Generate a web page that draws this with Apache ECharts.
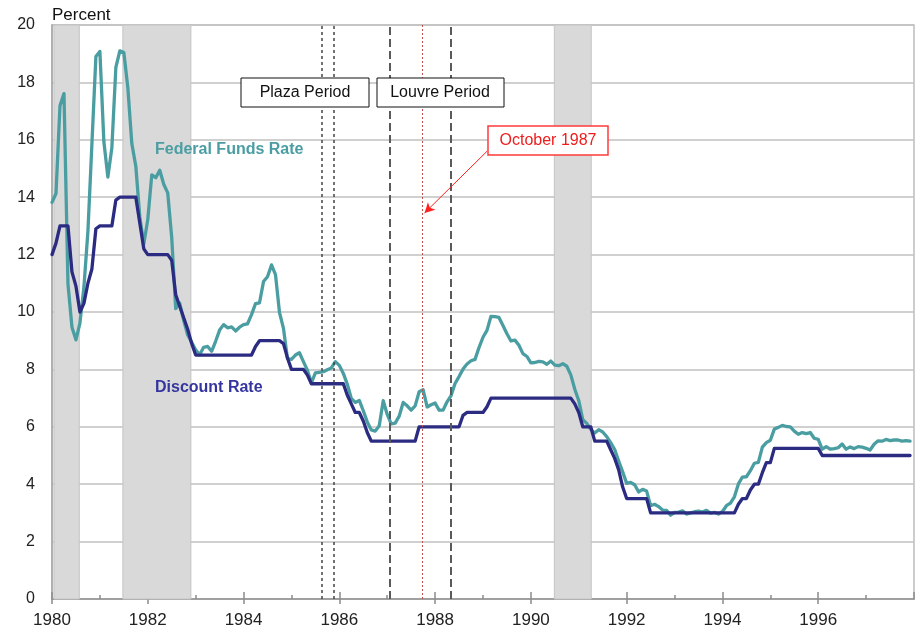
<!DOCTYPE html>
<html>
<head>
<meta charset="utf-8">
<script src="https://cdn.jsdelivr.net/npm/echarts/dist/echarts.min.js"></script>
<style>
html, body { margin: 0; padding: 0; background: #fff; }
#main { width: 916px; height: 634px; }
</style>
</head>
<body>
<div id="main"></div>
<script>
// monthly data, Jan 1980 .. Dec 1997
var startYear = 1980;

var fedFunds = [
  13.82,14.13,17.19,17.61,10.98,9.47,9.03,9.61,10.87,12.81,15.85,18.90,
  19.08,15.93,14.70,15.72,18.52,19.10,19.04,17.82,15.87,15.08,13.31,12.37,
  13.22,14.78,14.68,14.94,14.45,14.15,12.59,10.12,10.31,9.71,9.20,8.95,
  8.68,8.51,8.77,8.80,8.63,8.98,9.37,9.56,9.45,9.48,9.34,9.47,
  9.56,9.59,9.91,10.29,10.32,11.06,11.23,11.64,11.30,9.99,9.43,8.38,
  8.35,8.50,8.58,8.27,7.97,7.53,7.88,7.90,7.92,7.99,8.05,8.27,
  8.14,7.86,7.48,6.99,6.85,6.92,6.56,6.17,5.89,5.85,6.04,6.91,
  6.43,6.10,6.13,6.37,6.85,6.73,6.58,6.73,7.22,7.29,6.69,6.77,
  6.83,6.58,6.58,6.87,7.09,7.51,7.75,8.01,8.19,8.30,8.35,8.76,
  9.12,9.36,9.85,9.84,9.81,9.53,9.24,8.99,9.02,8.84,8.55,8.45,
  8.23,8.24,8.28,8.26,8.18,8.29,8.15,8.13,8.20,8.11,7.81,7.31,
  6.91,6.25,6.12,5.91,5.78,5.90,5.82,5.66,5.45,5.21,4.81,4.43,
  4.03,4.06,3.98,3.73,3.82,3.76,3.25,3.30,3.22,3.10,3.09,2.92,
  3.02,3.03,3.07,2.96,3.00,3.04,3.06,3.03,3.09,2.99,3.02,2.96,
  3.05,3.25,3.34,3.56,4.01,4.25,4.26,4.47,4.73,4.76,5.29,5.45,
  5.53,5.92,5.98,6.05,6.01,6.00,5.85,5.74,5.80,5.76,5.80,5.60,
  5.56,5.22,5.31,5.22,5.24,5.27,5.40,5.22,5.30,5.24,5.31,5.29,
  5.25,5.19,5.39,5.51,5.50,5.56,5.52,5.54,5.54,5.50,5.52,5.50
];

var discountRate = [
  12,12.4,13,13,13,11.4,10.9,10,10.3,11,11.5,12.9,
  13,13,13,13,13.9,14,14,14,14,14,13.1,12.2,
  12,12,12,12,12,12,11.8,10.6,10.2,9.8,9.4,8.9,
  8.5,8.5,8.5,8.5,8.5,8.5,8.5,8.5,8.5,8.5,8.5,8.5,
  8.5,8.5,8.5,8.8,9,9,9,9,9,9,8.9,8.4,
  8,8,8,8,7.8,7.5,7.5,7.5,7.5,7.5,7.5,7.5,
  7.5,7.5,7.1,6.8,6.5,6.5,6.2,5.8,5.5,5.5,5.5,5.5,
  5.5,5.5,5.5,5.5,5.5,5.5,5.5,5.5,6,6,6,6,
  6,6,6,6,6,6,6,6.4,6.5,6.5,6.5,6.5,
  6.5,6.7,7,7,7,7,7,7,7,7,7,7,
  7,7,7,7,7,7,7,7,7,7,7,6.8,
  6.5,6,6,6,5.5,5.5,5.5,5.5,5.2,4.9,4.5,3.9,
  3.5,3.5,3.5,3.5,3.5,3.5,3,3,3,3,3,3,
  3,3,3,3,3,3,3,3,3,3,3,3,
  3,3,3,3,3.3,3.5,3.5,3.8,4,4,4.4,4.75,
  4.75,5.25,5.25,5.25,5.25,5.25,5.25,5.25,5.25,5.25,5.25,5.25,
  5.25,5,5,5,5,5,5,5,5,5,5,5,
  5,5,5,5,5,5,5,5,5,5,5,5
];

// recessions (shaded)
var recessionStart = [1980.04, 1981.48, 1990.49];
var recessionEnd = [1980.57, 1982.90, 1991.26];

// event lines
var plazaDates = [1985.64, 1985.89];
var louvreDates = [1987.06, 1988.32];
var octoberDate = 1987.73;
var arrowFrom = [1989.09, 15.61];
var arrowTo = [1987.78, 13.45];

function toPairs(arr) {
  return arr.map(function (v, i) { return [startYear + i / 12, v]; });
}

var eventLines = [];
plazaDates.forEach(function (d) {
  eventLines.push({ xAxis: d, lineStyle: { color: '#444', type: [3, 3], width: 1.5 } });
});
louvreDates.forEach(function (d) {
  eventLines.push({ xAxis: d, lineStyle: { color: '#5a5a5a', type: [8, 4], width: 2 } });
});
eventLines.push({ xAxis: octoberDate, lineStyle: { color: '#c0504d', type: [2, 2], width: 1 } });

var txt = '"Liberation Sans", Arial, sans-serif';

var option = {
  animation: false,
  backgroundColor: '#fff',
  grid: {
    left: 52, right: 2, top: 25, bottom: 35,
    show: true, borderColor: '#bdbdbd', borderWidth: 1.5,
    outerBoundsMode: 'none'
  },
  xAxis: [{
    type: 'value',
    min: 1980, max: 1998, interval: 2,
    axisLine: { show: true, lineStyle: { color: '#a0a0a0', width: 2 } },
    axisTick: { show: true, length: 5, lineStyle: { color: '#8c8c8c', width: 1.5 } },
    minorTick: { show: false },
    splitLine: { show: false },
    axisLabel: {
      margin: 13, color: '#222', fontSize: 17, fontFamily: txt,
      showMaxLabel: false,
      formatter: function (v) { return String(v); }
    }
  }, {
    // inner half of the ticks
    type: 'value', position: 'bottom',
    min: 1980, max: 1998, interval: 2,
    axisLine: { show: false },
    axisTick: { show: true, inside: true, length: 7, lineStyle: { color: '#8c8c8c', width: 1.5 } },
    minorTick: { show: true, splitNumber: 2, length: 4, lineStyle: { color: '#8c8c8c', width: 1.5 } },
    splitLine: { show: false },
    axisLabel: { show: false }
  }],
  yAxis: {
    type: 'value',
    min: 0, max: 20, interval: 2,
    name: 'Percent',
    nameLocation: 'end',
    nameGap: 10,
    nameTextStyle: { align: 'left', verticalAlign: 'middle', color: '#111', fontSize: 17, fontFamily: txt },
    axisLine: { show: true, lineStyle: { color: '#a6a6a6', width: 1.5 } },
    axisTick: { show: false },
    splitLine: { show: true, lineStyle: { color: '#c0c0c0', width: 1.5 } },
    axisLabel: { margin: 17, color: '#222', fontSize: 16, fontFamily: txt }
  },
  series: [
    {
      type: 'line', name: 'marks', data: [], z: 1, silent: true,
      markArea: {
        silent: true,
        itemStyle: { color: '#d9d9d9', borderColor: '#c4c4c4', borderWidth: 1 },
        data: recessionStart.map(function (s, i) { return [{ xAxis: s }, { xAxis: recessionEnd[i] }]; })
      },
      markLine: {
        silent: true, symbol: 'none', label: { show: false },
        data: eventLines
      }
    },
    {
      type: 'line', name: 'Federal Funds Rate', data: toPairs(fedFunds),
      showSymbol: false, z: 3,
      lineStyle: { color: '#4a9ea2', width: 3.3, join: 'round', cap: 'round' },
      emphasis: { disabled: true }
    },
    {
      type: 'line', name: 'Discount Rate', data: toPairs(discountRate),
      showSymbol: false, z: 4,
      lineStyle: { color: '#2b2b82', width: 3.3, join: 'round', cap: 'round' },
      emphasis: { disabled: true }
    },
    {
      type: 'line', name: 'arrow', data: [], z: 5, silent: true,
      markLine: {
        silent: true, symbol: ['none', 'arrow'], symbolSize: [8, 10],
        label: { show: false },
        lineStyle: { color: '#ff2020', type: 'solid', width: 1 },
        data: [[{ coord: arrowFrom }, { coord: arrowTo }]]
      }
    }
  ],
  graphic: [
    { type: 'rect', shape: { x: 241, y: 78, width: 128, height: 29 }, style: { fill: '#fff', stroke: '#111', lineWidth: 1 }, z: 10 },
    { type: 'text', x: 305, y: 93, style: { text: 'Plaza Period', font: '16px ' + txt, fill: '#111', align: 'center', verticalAlign: 'middle' }, z: 11 },
    { type: 'rect', shape: { x: 377, y: 78, width: 127, height: 29 }, style: { fill: '#fff', stroke: '#111', lineWidth: 1 }, z: 10 },
    { type: 'text', x: 440, y: 93, style: { text: 'Louvre Period', font: '16px ' + txt, fill: '#111', align: 'center', verticalAlign: 'middle' }, z: 11 },
    { type: 'rect', shape: { x: 488, y: 126, width: 120, height: 29 }, style: { fill: '#fff', stroke: '#ff3b3b', lineWidth: 1.5 }, z: 10 },
    { type: 'text', x: 548, y: 141, style: { text: 'October 1987', font: '16px ' + txt, fill: '#ee1c1c', align: 'center', verticalAlign: 'middle' }, z: 11 },
    { type: 'text', x: 155, y: 150, style: { text: 'Federal Funds Rate', font: 'bold 16px ' + txt, fill: '#4a9ea3', verticalAlign: 'middle' }, z: 11 },
    { type: 'text', x: 155, y: 388, style: { text: 'Discount Rate', font: 'bold 16px ' + txt, fill: '#3535a0', verticalAlign: 'middle' }, z: 11 }
  ]
};

var myChart = echarts.init(document.getElementById('main'));
myChart.setOption(option);
</script>
</body>
</html>
